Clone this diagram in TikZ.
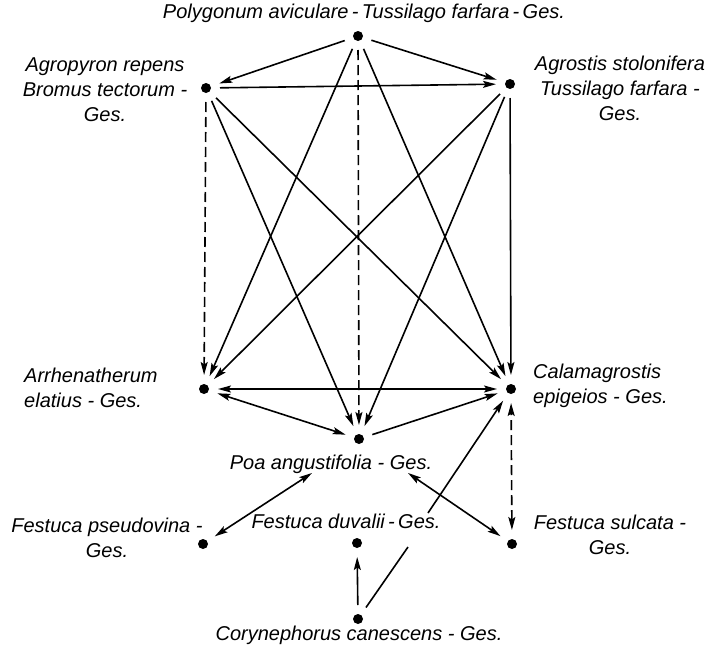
\documentclass[tikz,border=0pt]{standalone}
\usepackage{fontspec}
\setmainfont{Liberation Sans}
\usetikzlibrary{arrows.meta}
\newcommand{\lbfont}{\fontsize{20}{25}\selectfont\itshape}
\begin{document}
\begin{tikzpicture}[x=1pt,y=-1pt,
  dot/.style={circle,fill=black,inner sep=0pt,minimum size=10pt,outer sep=9pt},
  lbl/.style={font=\lbfont,inner sep=0pt},
  tip/.tip={Stealth[length=13pt,width=7pt,inset=2.5pt]},
  conn/.style={line width=1.6pt,-tip},
  plain/.style={line width=1.6pt},
  both/.style={line width=1.6pt,tip-tip},
  dsh/.style={dash pattern=on 10pt off 5pt}]
\path[use as bounding box,fill=white] (0,0) rectangle (718,648);
% nodes
\node[dot] (P) at (358,36) {};
\node[dot] (A) at (206,88) {};
\node[dot] (G) at (510,84) {};
\node[dot] (Ar) at (204,389) {};
\node[dot] (C) at (511,389) {};
\node[dot] (Poa) at (359,439) {};
\node[dot] (Fp) at (203,544) {};
\node[dot] (Fd) at (357,543) {};
\node[dot] (Fs) at (512,544) {};
\node[dot] (Co) at (358,619) {};
% labels
\node[lbl] (lP) at (364,13) {Polygonum aviculare\,-\,Tussilago farfara\,-\,Ges.};
\node[lbl,align=center] (lA) at (105,90) {Agropyron repens\\Bromus tectorum -\\Ges.};
\node[lbl,align=center] (lG) at (620,88) {Agrostis stolonifera\\Tussilago farfara -\\Ges.};
\node[lbl,align=left,anchor=west] (lAr) at (24,388) {Arrhenatherum\\elatius - Ges.};
\node[lbl,align=left,anchor=west] (lC) at (533,386) {Calamagrostis\\epigeios - Ges.};
\node[lbl] (lPoa) at (331,464) {Poa angustifolia - Ges.};
\node[lbl,align=center] (lFp) at (107,538) {Festuca pseudovina -\\Ges.};
\node[lbl] (lFd) at (346,521) {Festuca duvalii\,-\,Ges.};
\node[lbl,align=center] (lFs) at (610,535) {Festuca sulcata -\\Ges.};
\node[lbl] (lCo) at (359,635) {Corynephorus canescens - Ges.};
% free ends
\coordinate (pa1) at (312,473);
\coordinate (pa2) at (408,473);
\coordinate (g1) at (408,547);
\coordinate (g2) at (428,513);
% connectors
\draw[conn] (P) -- (A);
\draw[conn] (P) -- (G);
\draw[conn] (P) -- (Ar);
\draw[conn,dsh] (P) -- (Poa);
\draw[conn] (P) -- (C);
\draw[conn] (A) -- (G);
\draw[conn,dsh] (A) -- (Ar);
\draw[conn] (A) -- (Poa);
\draw[conn] (A) -- (C);
\draw[conn] (G) -- (Ar);
\draw[conn] (G) -- (Poa);
\draw[conn] (G) -- (C);
\draw[both] (Ar) -- (C);
\draw[both] (Ar) -- (Poa);
\draw[conn] (Poa) -- (C);
\draw[both] (Fp) -- (pa1);
\draw[both] (Fs) -- (pa2);
\draw[both,dsh] (Fs) -- (C);
\draw[conn] (Co) -- (Fd);
\draw[plain] (Co) -- (g1);
\draw[conn] (g2) -- (C);
\end{tikzpicture}
\end{document}
